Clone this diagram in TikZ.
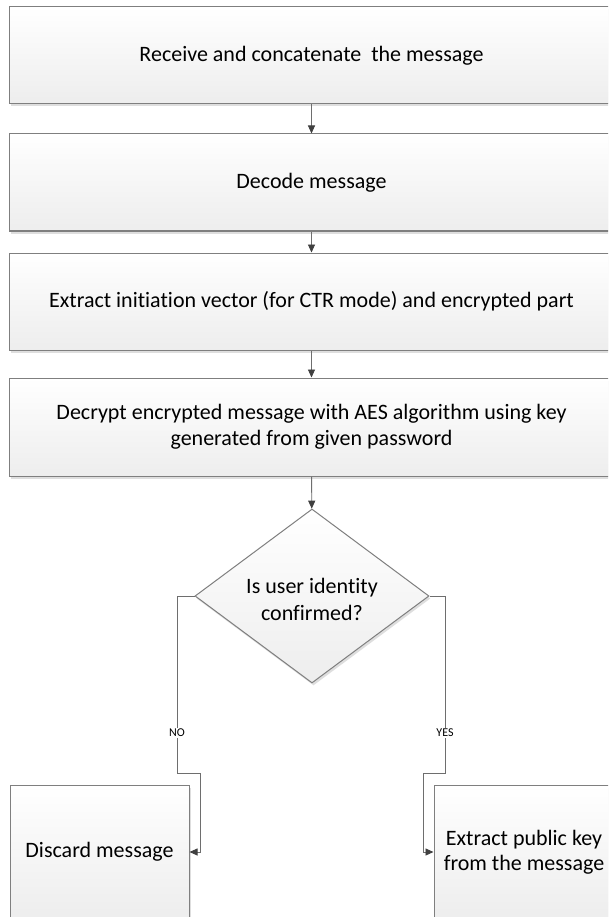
\documentclass[tikz,border=0pt]{standalone}
\usepackage{fontspec}
\setmainfont{Carlito}[Ligatures={CommonOff}]
\usetikzlibrary{shapes.geometric,shadows,arrows.meta}
\definecolor{bordergray}{HTML}{7F7F7F}
\definecolor{linegray}{HTML}{6E6E6E}
\definecolor{tipgray}{HTML}{404040}
\tikzset{
  procbox/.style={rectangle, draw=bordergray, line width=1pt,
    top color=white, bottom color=black!7,
    drop shadow={shadow xshift=1.5pt, shadow yshift=-2.5pt, fill=black!25, opacity=0.5},
    font=\fontsize{22}{25.5}\selectfont, align=center, inner sep=0pt},
  decbox/.style={diamond, draw=bordergray, line width=1pt,
    top color=white, bottom color=black!7,
    drop shadow={shadow xshift=1.5pt, shadow yshift=-2.5pt, fill=black!25, opacity=0.5},
    inner sep=0pt, minimum width=234pt, minimum height=174pt},
  conn/.style={draw=linegray, line width=0.9pt,
    -{Triangle[length=8pt,width=7pt,fill=tipgray,color=tipgray]}},
  lbl/.style={fill=white, inner sep=1.5pt, font=\fontsize{12}{14}\selectfont},
  txt/.style={font=\fontsize{22}{27}\selectfont, align=center, inner sep=0pt}
}
\begin{document}
\begin{tikzpicture}[x=1pt,y=-1pt]
\clip (0,0) rectangle (608,917);
\fill[white] (0,0) rectangle (608,917);

\node[procbox, minimum width=604pt, minimum height=97pt] (b1) at (311.5,55.5)
  {Receive and concatenate\ \ the message};
\node[procbox, minimum width=604pt, minimum height=97pt] (b2) at (311.5,182.5)
  {Decode message};
\node[procbox, minimum width=604pt, minimum height=97pt] (b3) at (311.5,301.5)
  {Extract initiation vector (for CTR mode) and encrypted part};
\node[procbox, minimum width=604pt, minimum height=98pt] (b4) at (311.5,427)
  {Decrypt encrypted message with AES algorithm using key\\generated from given password};

\node[decbox] (dia) at (312,596) {};
\node[txt] (diatxt) at (312,599) {Is user identity\\confirmed?};

\node[procbox, minimum width=179pt, minimum height=134pt] (d) at (99.5,852) {Discard message};
\node[procbox, minimum width=180pt, minimum height=134pt] (e) at (524,852)
  {Extract public key\\from the message};

\coordinate (n1) at (177,596);
\coordinate (n2) at (177,773);
\coordinate (n3) at (200,773);
\coordinate (y1) at (445,596);
\coordinate (y2) at (445,773);
\coordinate (y3) at (423,773);

\draw[conn] (b1) -- (b2);
\draw[conn] (b2) -- (b3);
\draw[conn] (b3) -- (b4);
\draw[conn] (b4) -- (dia);

\draw[conn] (dia.west) -- (n1) -- (n2) -- (n3) |- (d.east);
\draw[conn] (dia.east) -- (y1) -- (y2) -- (y3) |- (e.west);

\node[lbl] (nolbl) at (177,733) {NO};
\node[lbl] (yeslbl) at (445,733) {YES};
\end{tikzpicture}
\end{document}
